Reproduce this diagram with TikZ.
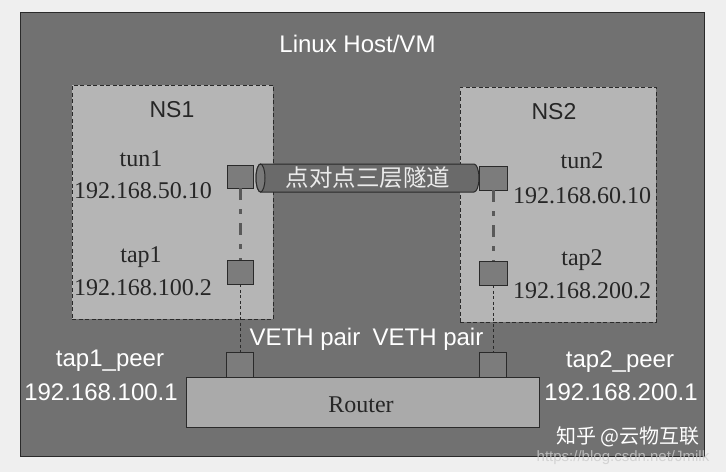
\documentclass[tikz,border=0pt]{standalone}
\usepackage{fontspec}
\setmainfont{Liberation Serif}
\newfontfamily\sansf{Liberation Sans}
\newfontfamily\cjk{Noto Sans CJK SC}
\definecolor{pagebg}{HTML}{EFEFEF}
\definecolor{hostgray}{HTML}{717171}
\definecolor{nsgray}{HTML}{B5B5B5}
\definecolor{sqgray}{HTML}{7C7C7C}
\definecolor{routergray}{HTML}{AAAAAA}
\definecolor{tubegray}{HTML}{6A6A6A}
\definecolor{edge}{HTML}{2A2A2A}
\tikzset{
  hostbox/.style={draw=edge, line width=1pt, fill=hostgray, inner sep=0pt},
  nsbox/.style={draw=edge, line width=0.9pt, dash pattern=on 4pt off 2.5pt, fill=nsgray, inner sep=0pt},
  sq/.style={draw=edge, line width=0.7pt, fill=sqgray, inner sep=0pt},
  routerbox/.style={draw=edge, line width=1pt, fill=routergray, inner sep=0pt},
  whitelabel/.style={text=white, font=\sansf\fontsize{24}{28}\selectfont, inner sep=0pt, anchor=base},
  nstitle/.style={text=black!85, font=\sansf\fontsize{23}{26}\selectfont, inner sep=0pt, anchor=base},
  serifl/.style={text=black!85, font=\fontsize{24}{28}\selectfont, inner sep=0pt, anchor=base},
  dashdotline/.style={draw=black!65, line width=3pt, dash pattern=on 12pt off 9pt on 5pt off 9pt},
  thindash/.style={draw=edge, line width=0.8pt, dash pattern=on 3pt off 2.5pt},
}
\begin{document}
\begin{tikzpicture}[x=1pt,y=-1pt]
\useasboundingbox (0,0) rectangle (726,472);
\fill[pagebg] (0,0) rectangle (726,472);
% boxes
\node[hostbox, minimum width=684pt, minimum height=444pt] (host) at (362,234) {};
\node[nsbox, minimum width=201pt, minimum height=234pt] (ns1) at (172.5,202) {};
\node[nsbox, minimum width=196pt, minimum height=235pt] (ns2) at (558,204.5) {};
\node[routerbox, minimum width=353pt, minimum height=50pt] (router) at (362.5,402) {};
% interface squares
\node[sq, minimum width=26pt, minimum height=23pt] (tun1sq) at (240,176.5) {};
\node[sq, minimum width=26pt, minimum height=24pt] (tap1sq) at (240,272) {};
\node[sq, minimum width=28pt, minimum height=24pt] (tun2sq) at (493,178) {};
\node[sq, minimum width=28pt, minimum height=24pt] (tap2sq) at (493,273) {};
\node[sq, minimum width=27pt, minimum height=25pt] (p1sq) at (240,364.5) {};
\node[sq, minimum width=27pt, minimum height=25pt] (p2sq) at (493,364.5) {};
% connectors
\draw[dashdotline] (tun1sq) -- (tap1sq);
\draw[dashdotline] (tun2sq) -- (tap2sq);
\draw[thindash] (tap1sq) -- (p1sq);
\draw[thindash] (tap2sq) -- (p2sq);
% tunnel tube
\coordinate (tubeL) at (260.5,178);
\coordinate (tubeR) at (474,178);
\draw[fill=tubegray, draw=edge, line width=1pt]
  (260.5,164) -- (474,164) arc[start angle=90, end angle=-90, x radius=5pt, y radius=14pt]
  -- (260.5,192) arc[start angle=270, end angle=90, x radius=4.5pt, y radius=14pt] -- cycle;
\draw[fill=tubegray!90!white, draw=edge, line width=1pt] (tubeL) ellipse[x radius=4.5pt, y radius=14pt];
\node[text=black!8, font=\cjk\fontsize{23.5}{26}\selectfont, inner sep=0pt, anchor=base] (tubelabel) at (368,186) {点对点三层隧道};
% labels
\node[whitelabel] (hosttitle) at (357.5,52) {Linux Host/VM};
\node[nstitle] (ns1title) at (172,117) {NS1};
\node[nstitle] (ns2title) at (554,119) {NS2};
\node[serifl] (tun1name) at (141,166) {tun1};
\node[serifl] (tun1ip) at (143,198) {192.168.50.10};
\node[serifl] (tap1name) at (141,262) {tap1};
\node[serifl] (tap1ip) at (143,295) {192.168.100.2};
\node[serifl] (tun2name) at (582,168) {tun2};
\node[serifl] (tun2ip) at (582,203) {192.168.60.10};
\node[serifl] (tap2name) at (582,265) {tap2};
\node[serifl] (tap2ip) at (582,298) {192.168.200.2};
\node[whitelabel] (veth1) at (305,345) {VETH pair};
\node[whitelabel] (veth2) at (428,345) {VETH pair};
\node[whitelabel] (p1name) at (110,366) {tap1\_peer};
\node[whitelabel] (p1ip) at (101,400) {192.168.100.1};
\node[whitelabel] (p2name) at (620,367) {tap2\_peer};
\node[whitelabel] (p2ip) at (621,400) {192.168.200.1};
\node[serifl] (routername) at (361,412) {Router};
% watermarks
\node[text=white, font=\cjk\fontsize{20}{24}\selectfont, inner sep=0pt, anchor=base] (wm1) at (628,443) {知乎 @云物互联};
\node[text=white!80!black, opacity=0.8, font=\sansf\fontsize{15}{18}\selectfont, inner sep=0pt, anchor=base] (wm2) at (623,461) {https://blog.csdn.net/Jmilk};
\end{tikzpicture}
\end{document}
